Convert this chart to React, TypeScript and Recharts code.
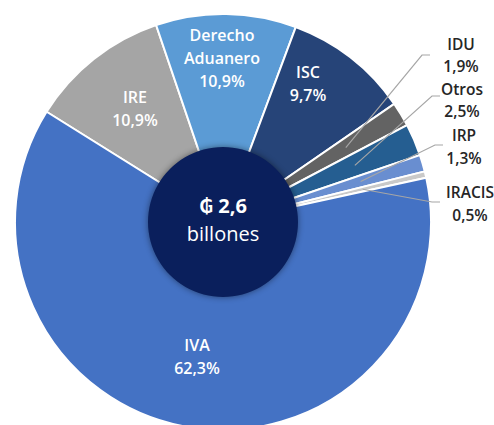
import React from 'react';
import { PieChart, Pie, Cell } from 'recharts';

const categories = ['IRE', 'Derecho Aduanero', 'ISC', 'IDU', 'Otros', 'IRP', 'IRACIS', 'IVA'];
const shares = [10.9, 10.9, 9.7, 1.9, 2.5, 1.3, 0.5, 62.3];
const sliceColors = ['#A5A5A5', '#5B9BD5', '#264478', '#636363', '#255E91', '#698ED0', '#C9C9C9', '#4472C4'];
const totalLines = ['₲ 2,6', 'billones'];

const data = categories.map((name, i) => ({ name, value: shares[i] }));
const centerData = [{ name: 'total', value: 1 }];

// label placement (offsets from the pie centre)
const insideLayout: Record<string, { dx: number; dy: number }> = {
  IRE: { dx: -88, dy: -113.5 },
  'Derecho Aduanero': { dx: -1, dy: -164 },
  ISC: { dx: 85, dy: -139 },
  IVA: { dx: -26, dy: 134.5 },
};
const outsideLayout: Record<string, { tx: number; ty: number; ex: number; ey: number; lh: number }> = {
  IDU: { tx: 238, ty: -167, ex: 207, ey: -167, lh: 22 },
  Otros: { tx: 239, ty: -122, ex: 217, ey: -126, lh: 22 },
  IRP: { tx: 241, ty: -75.5, ex: 220, ey: -77, lh: 23 },
  IRACIS: { tx: 247, ty: -18.5, ex: 217, ey: -20, lh: 23 },
};

const RAD = Math.PI / 180;
const LH = 23;
const FONT = '"Open Sans", "DejaVu Sans", sans-serif';
const fmt = (v: number) => v.toFixed(1).replace('.', ',') + '%';

function renderLabel(props: any) {
  const { cx, cy, midAngle, outerRadius, index } = props;
  const name = categories[index];
  const lines = [...name.split(' '), fmt(shares[index])];
  const inside = insideLayout[name];
  if (inside) {
    const x = cx + inside.dx;
    const y0 = cy + inside.dy - ((lines.length - 1) * LH) / 2;
    return (
      <g>
        {lines.map((t, k) => (
          <text key={k} x={x} y={y0 + k * LH} textAnchor="middle" dominantBaseline="central"
            fill="#ffffff" fontFamily={FONT} fontSize={16} fontWeight={600}>{t}</text>
        ))}
      </g>
    );
  }
  const o = outsideLayout[name];
  const r = outerRadius * 0.69;
  const sx = cx + r * Math.cos(-midAngle * RAD);
  const sy = cy + r * Math.sin(-midAngle * RAD);
  const ex = cx + o.ex;
  const ey = cy + o.ey;
  const y0 = cy + o.ty - ((lines.length - 1) * o.lh) / 2;
  return (
    <g>
      <polyline points={`${sx},${sy} ${ex - 8},${ey} ${ex},${ey}`} fill="none" stroke="#A6A6A6" strokeWidth={1.2} />
      {lines.map((t, k) => (
        <text key={k} x={cx + o.tx} y={y0 + k * o.lh} textAnchor="middle" dominantBaseline="central"
          fill="#262626" fontFamily={FONT} fontSize={15.5} fontWeight={600}>{t}</text>
      ))}
    </g>
  );
}

function renderCenter(props: any) {
  const { cx, cy } = props;
  return (
    <g>
      <text x={cx} y={cy - 17} textAnchor="middle" dominantBaseline="central" fill="#ffffff"
        fontFamily={FONT} fontSize={20} fontWeight={700}>{totalLines[0]}</text>
      <text x={cx} y={cy + 11} textAnchor="middle" dominantBaseline="central" fill="#ffffff"
        fontFamily={FONT} fontSize={20} fontWeight={400}>{totalLines[1]}</text>
    </g>
  );
}

export default function App() {
  return (
    <div style={{ position: 'absolute', left: 0, top: 0, width: 494, height: 425, background: '#ffffff' }}>
      <PieChart width={494} height={425} margin={{ top: 0, right: 0, bottom: 0, left: 0 }}>
        <Pie
          data={data}
          dataKey="value"
          nameKey="name"
          cx={223}
          cy={222}
          outerRadius={208}
          innerRadius={0}
          startAngle={148}
          endAngle={-212}
          stroke="#ffffff"
          strokeWidth={2}
          label={renderLabel}
          labelLine={false}
          isAnimationActive={false}
        >
          {data.map((d, i) => (
            <Cell key={d.name} fill={sliceColors[i]} />
          ))}
        </Pie>
        <Pie
          data={centerData}
          dataKey="value"
          cx={223}
          cy={222}
          outerRadius={75}
          innerRadius={0}
          startAngle={90}
          endAngle={-270}
          stroke="none"
          label={renderCenter}
          labelLine={false}
          isAnimationActive={false}
        >
          <Cell fill="#0A1F5C" style={{ filter: 'drop-shadow(0px 0px 3px rgba(0,0,0,0.45))' }} />
        </Pie>
      </PieChart>
    </div>
  );
}
